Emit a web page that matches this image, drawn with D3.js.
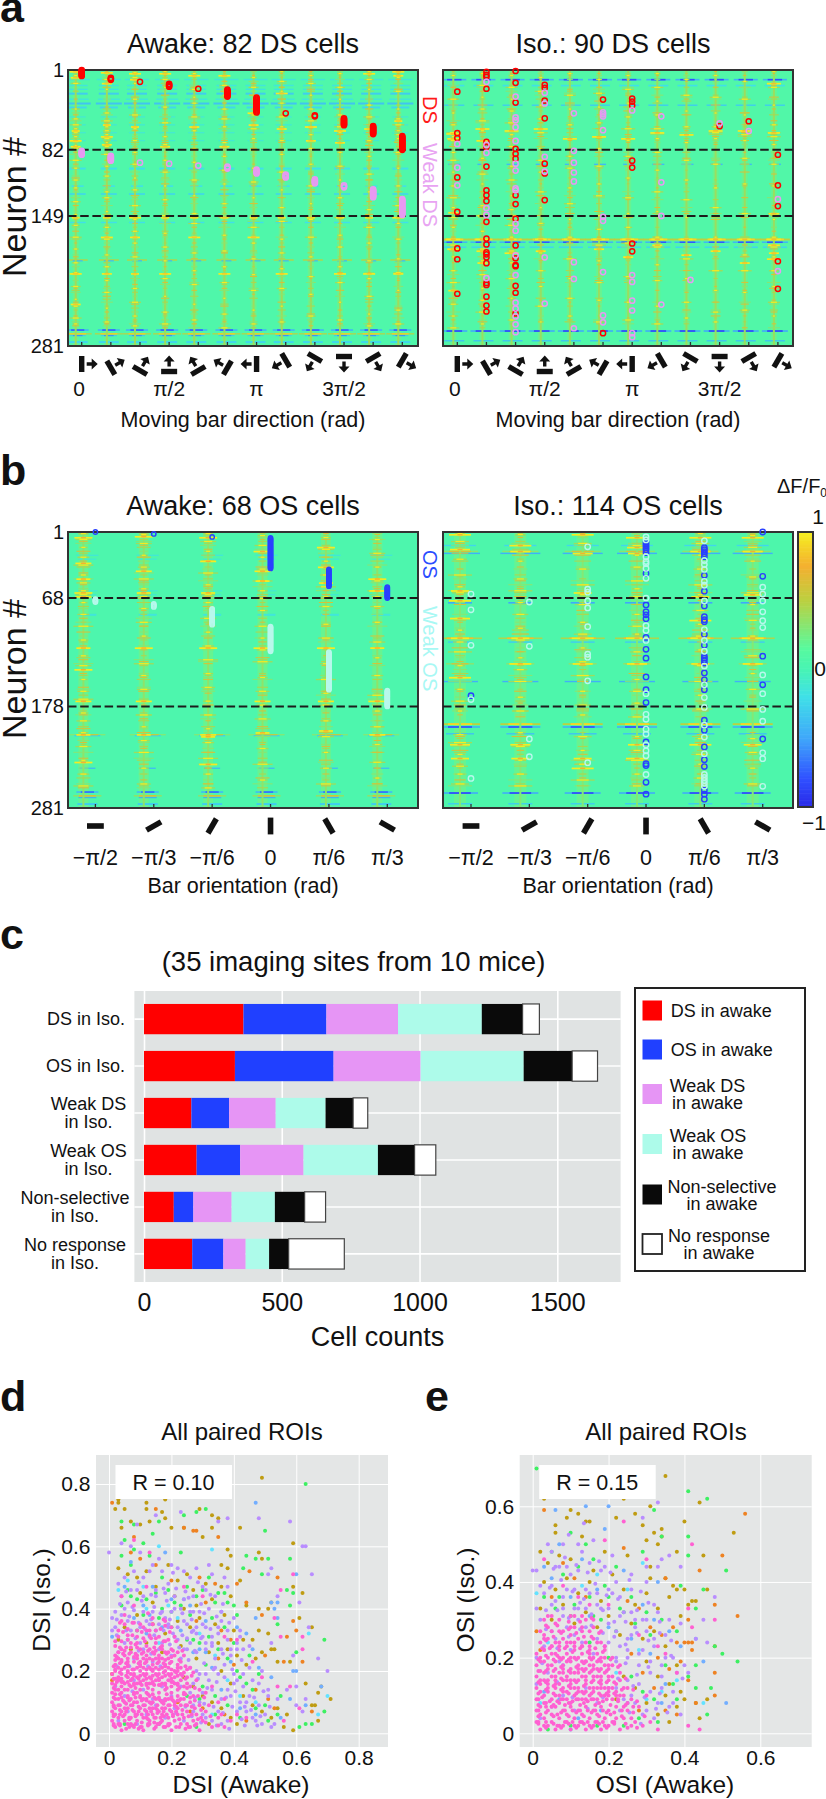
<!DOCTYPE html>
<meta charset="utf-8">
<style>
  html, body { margin: 0; padding: 0; background: #fff; }
  text { font-family: "Liberation Sans", Arial, sans-serif; fill: #111; }
</style>
<script src="https://d3js.org/d3.v7.min.js"></script>
<div id="chart"></div>
<script>

// ---------- colour bar ----------
var colorStops = [-1, -0.8, -0.5, -0.2, 0, 0.15, 0.5, 0.75, 1];
var colorHex = ["#2a2ae8", "#3050ff", "#40a8fa", "#40e0e8", "#48f4b4", "#58fa9e", "#bcd040", "#f4b030", "#f5f020"];

// ---------- panel a : direction columns ----------
var directionAngles = [0, 30, 60, 90, 120, 150, 180, 210, 240, 270, 300, 330];
var directionLabels = ["0", "", "", "π/2", "", "", "π", "", "", "3π/2", "", ""];

// awake DS / weak DS cells: [column, first neuron, last neuron]
var aAwakeStrong = [[0,1,7],[1,9,11],[2,13,13],[3,15,18],[4,20,20],[5,21,28],[6,29,44],[7,45,45],[8,47,48],[9,50,57],[10,58,66],[11,68,82]];
var aAwakeWeakCells = [[0,83,87],[1,88,93],[2,95,95],[3,96,96],[4,98,98],[5,99,101],[6,102,106],[7,107,110],[8,112,116],[9,118,120],[10,122,130],[11,132,148]];

// iso DS / weak DS cells: neuron numbers per column
var aIsoStrong = [
  [23,65,70,110,145,182,193,228],
  [3,6,8,20,74,79,99,123,128,134,155,172,178,186,188,191,197,217,219,231,240,246],
  [2,14,34,81,86,91,128,137,152,179,192,199,200,220,227,248],
  [16,19,32,50,96,106,133],
  [],
  [31,268],
  [30,33,37,93,100,177,185],
  [],
  [],
  [58],
  [53],
  [87,118,139,195,223]
];
var aIsoWeakCells = [
  [76,100,118],
  [13,77,85,141,148,212],
  [28,49,52,59,73,96,103,121,123,157,164,189,209,237,243,251,259,267],
  [24,35,89,104,191,238],
  [45,83,95,105,114,196,213,263],
  [44,46,48,62,150,154,206,250,257],
  [42,209,216,235,245,268,272],
  [48,115,149,239],
  [214],
  [55],
  [63],
  [132,205]
];

// response flecks read per column: neuron rows
var aAwakeFlecks = [
  [6,14,40,50,56,60,64,68,73,77,80,92,100,112,120,134,147,158,170,182,196,206,220,233,240,252,258],
  [4,10,20,44,52,58,62,66,70,74,78,86,98,108,124,130,144,160,172,188,200,214,226,242,256],
  [3,8,14,30,46,60,72,84,96,110,122,138,152,164,176,190,208,222,236,250,260],
  [2,10,18,38,54,68,76,92,104,118,132,148,166,180,194,212,230,246,258],
  [4,20,28,34,48,62,80,94,112,128,146,156,170,186,204,218,238,254],
  [6,16,26,40,50,58,74,88,102,116,136,150,168,184,200,216,232,248,262],
  [8,18,30,46,60,70,82,100,114,130,148,160,176,192,208,224,244,258],
  [2,12,22,34,48,58,72,86,104,122,140,154,172,186,202,222,240,256],
  [6,14,26,40,52,66,80,96,118,136,152,170,190,210,228,250],
  [4,18,30,46,58,64,74,84,98,112,130,150,168,180,200,216,236,254],
  [2,10,20,36,48,60,72,88,106,124,142,160,176,194,212,230,248,260],
  [8,22,40,50,56,62,66,70,84,100,118,138,156,172,192,206,224,244,258]
];
var aAwakeHot = [
  [2,8,62,72,78,150,207,238],
  [3,14,56,68,76,150,170,207],
  [4,10,58,150,170,207],
  [4,78,150,207],
  [6,58,150,170],
  [6,78,150,207],
  [44,56,150,170],
  [24,60,150,207],
  [58,72,150],
  [62,74,150,207],
  [4,60,150,207],
  [2,6,52,150,207]
];
var aAwakeBands = [[10,1.4,-0.15,12],[16,1.4,-0.15,10],[20,1.2,-0.18,10],[24,2,-0.3,10],[30,1.2,-0.18,11],[34,2,-0.35,13],[38,2,-0.25,9],[48,1.2,-0.12,8],[56,1.2,-0.12,8],[64,1.2,-0.12,8],[72,1.2,-0.12,8],[100,2,-0.2,8],[118,1.6,-0.2,6],[126,1.6,-0.25,8],[155,1.4,-0.2,8],[193,1.5,0.45,10],[194,1.2,-0.4,5],[264,1.6,-0.75,11],[268,1.3,0.85,14],[270,1,-0.6,8],[276,2,-0.25,10]];

var aIsoFlecks = [
  [6,30,44,56,64,68,72,84,92,104,118,130,140,150,160,178,190,204,216,224,238,250,262],
  [4,16,28,40,52,62,72,90,106,116,138,148,164,182,194,208,222,234,246,258],
  [6,18,30,42,54,66,78,98,112,128,142,158,170,184,196,212,232,254],
  [8,22,36,50,64,80,92,104,124,140,156,172,186,204,220,240,256],
  [4,26,40,56,70,88,100,120,136,152,170,192,212,232,250],
  [10,24,38,54,68,80,98,116,128,148,162,178,194,216,234,256],
  [6,20,34,48,60,72,88,110,130,146,160,176,190,210,236,254],
  [4,18,32,46,60,70,84,102,124,144,170,180,198,214,240,258],
  [10,26,42,58,66,74,92,112,132,150,172,192,212,236,252],
  [6,28,44,58,64,70,96,120,140,170,184,204,224,246,256],
  [12,30,46,62,66,72,90,116,146,172,188,204,226,244],
  [2,18,36,56,68,76,96,118,146,152,170,180,190,204,220,236,250]
];
var aIsoHot = [
  [65,70,145,172,182,224],
  [60,72,148,172,184,196],
  [62,148,172,186],
  [60,172,184],
  [70,172],
  [68,172,182],
  [70,172,190],
  [64,172,178],
  [66,172,188],
  [62,172,184],
  [62,172,196],
  [14,64,146,172,178,186,192]
];
var aIsoBands = [[10,1.6,-0.8,12],[16,1.6,-0.2,10],[36,1.4,-0.3,10],[96,1.4,-0.4,6],[172,1.8,0.9,15],[175,1.4,-0.8,13],[180,1.6,-0.25,12],[265,1.6,-0.85,13],[275,1.4,-0.35,10]];

// ---------- panel b : orientation columns ----------
var orientationAngles = [-90, -60, -30, 0, 30, 60];
var orientationLabels = ["−π/2", "−π/3", "−π/6", "0", "π/6", "π/3"];

var bAwakeStrong = [[0,1,1],[1,3,3],[2,6,6],[3,7,38],[4,39,56],[5,57,68]];
var bAwakeWeakCells = [[0,69,72],[1,74,77],[2,79,95],[3,97,122],[4,123,161],[5,162,178]];

var bIsoStrong = [
  [167],
  [],
  [],
  [11,13,15,17,19,22,43,75,82,85,89,108,120,129,148,161,174,214,236,238,255,267],
  [17,19,21,23,26,45,61,76,87,90,92,105,116,127,129,131,134,144,151,161,192,202,219,232,239,263,267,272],
  [1,46,127,156,211]
];
var bIsoWeakCells = [
  [64,80,116,171,251],
  [72,117,211,229],
  [16,59,62,71,78,97,125,128,152,235],
  [6,9,26,31,33,38,48,68,96,101,111,165,186,191,201,206,217,223,228,247],
  [10,30,34,39,51,55,71,100,111,122,137,156,169,179,197,209,226,247,250,253,256,259],
  [57,64,71,82,91,98,146,165,181,193,225,231,259]
];

var bAwakeFlecks = [
  [2,8,16,26,34,44,52,60,64,72,84,96,110,118,126,136,150,162,170,184,192,204,218,232,246,258],
  [3,12,24,36,48,58,66,78,92,106,118,134,146,160,172,186,198,212,224,240,256],
  [2,10,20,30,42,54,64,72,88,102,116,130,144,158,172,186,200,214,230,246,260],
  [4,14,26,38,50,60,68,80,96,108,120,132,148,162,176,190,204,220,236,252],
  [6,18,30,44,56,66,76,94,108,118,134,150,164,176,192,208,224,240,256],
  [8,22,36,50,60,66,76,92,112,128,146,166,182,198,216,234,250]
];
var bAwakeHot = [
  [6,32,48,62,66,118,140,172,206,234],
  [5,40,62,118,172,206],
  [6,30,62,118,206,208,236],
  [20,40,50,118,172,204],
  [16,36,52,118,172,202],
  [48,60,118,172,206]
];
var bAwakeBands = [[24,1.2,-0.14,11],[28,1.2,-0.12,9],[60,1.2,-0.12,10],[64,1.2,-0.12,9],[84,2,-0.15,9],[206,1.3,0.55,18],[207,1.3,-0.3,13],[240,1.3,-0.4,8],[264,1.6,-0.7,11],[268,1.3,0.7,14],[270,1,-0.5,9],[276,2,-0.3,10]];

var bIsoFlecks = [
  [2,10,18,28,44,56,62,70,88,100,112,122,136,148,160,172,182,206,214,226,238,246,256],
  [3,14,30,48,60,72,84,98,110,128,140,152,168,182,204,218,232,246,258],
  [4,12,22,38,54,64,74,92,104,118,132,146,162,176,186,208,222,236,252],
  [6,14,24,36,50,58,66,84,96,104,122,134,150,162,174,188,208,222,232,246,258],
  [2,12,24,38,54,64,80,94,106,120,136,152,166,180,210,226,236,250],
  [4,16,30,46,62,74,90,106,126,144,160,180,210,224,240,256]
];
var bIsoHot = [
  [3,18,60,70,88,108,148,216,230],
  [14,20,108,134,216,230],
  [3,22,62,108,134,230,240],
  [6,16,22,108,134,216,230],
  [6,20,66,90,108,134,216],
  [6,20,64,108,134,216]
];
var bIsoBands = [[14,1.4,-0.25,16],[20,1.4,0.6,18],[22,1.4,-0.45,20],[72,1.6,-0.5,12],[108,1.6,0.8,22],[112,1.4,-0.3,12],[134,1.4,0.6,14],[152,1.4,-0.45,18],[195,1.8,0.9,20],[198,1.6,-0.8,20],[205,1.4,-0.35,14],[265,1.6,-0.85,18],[276,1.4,-0.3,12]];

// ---------- panel c ----------
var countCategories = ["DS in Iso.", "OS in Iso.", "Weak DS\nin Iso.", "Weak OS\nin Iso.", "Non-selective\nin Iso.", "No response\nin Iso."];
var countGroups = ["DS in awake", "OS in awake", "Weak DS\nin awake", "Weak OS\nin awake", "Non-selective\nin awake", "No response\nin awake"];
var countColors = ["#ff0000", "#2040ff", "#e695f5", "#adfbea", "#0a0a0a", "#ffffff"];
var countsDS = [361, 301, 260, 304, 148, 61];
var countsOS = [330, 358, 316, 374, 176, 92];
var countsWeakDS = [172, 137, 169, 181, 100, 53];
var countsWeakOS = [191, 158, 230, 270, 133, 77];
var countsNonSel = [108, 71, 139, 157, 108, 76];
var countsNoResp = [175, 113, 81, 85, 71, 202];
var countTicks = [0, 500, 1000, 1500];

// ---------- panel d (x, y pairs in hundredths) ----------
var scatterColors = {olive:"#bf9c12", orange:"#ee8222", green:"#3df062", cyan:"#63e2ff", blue:"#72aeff", purple:"#b98dff", pink:"#ff60d2"};
var scatterTicksD = [0, 0.2, 0.4, 0.6, 0.8];
var scatterTicksE = [0, 0.2, 0.4, 0.6];

var dOlive = [49,82,42,66,35,69,33,70,29,72,18,75,12,74,12,72,17,71,3,75,3,74,2,72,5,72,4,66,7,68,10,67,13,68,18,69,20,66,24,66,33,66,30,63,59,61,49,56,48,58,39,57,38,59,36,54,38,53,62,45,59,47,52,42,48,40,51,40,61,37,65,34,51,32,48,33,47,24,54,23,58,23,52,27,53,27,49,26,46,30,63,16,68,15,67,13,71,11,65,9,66,9,67,4,59,1,56,2,
 3,53,6,51,9,50,12,52,15,47,19,54,22,49,25,51,27,46,10,45,14,42,21,44,24,40,28,41,31,48,33,43,36,47,39,44,42,49,44,41,29,37,34,35,37,38,40,33,43,30,26,34,22,36,18,32,14,35,9,38,5,34,3,30,7,27,12,29,17,26,23,28,28,24,32,26,35,29,38,27,41,25,44,22,36,20,39,16,43,12,46,9,49,7,52,5,54,8,57,6,36,8,39,5,33,10,30,12,27,15,24,18,32,3,41,3];
var dOrange = [15,72,24,66,27,65,28,65,35,63,1,74,8,63,54,50,45,52,59,36,60,33,57,31,49,38,62,23,56,23,50,25,65,7,7,58,10,56,15,54,20,49,29,50,34,48,41,48,44,42,31,42,28,36,36,33,39,30,35,24,40,22,47,14,51,11,53,8,30,8,37,6,44,4,26,7,22,10,1,17,1,19];
var dGreen = [63,80,50,65,31,72,28,71,24,70,4,68,8,67,16,68,58,56,51,56,47,56,44,57,49,51,43,53,59,45,57,46,58,41,54,35,69,30,60,26,69,7,63,3,65,3,61,2,5,62,8,59,11,61,14,64,4,57,7,54,13,57,17,50,23,58,25,47,28,44,32,50,35,45,38,42,41,38,12,43,7,44,17,40,21,42,33,37,37,34,40,29,45,25,42,18,46,14,50,9,54,6,30,15,34,12,38,9,9,33,20,34,27,30,31,22,48,19,55,12,
 6,46,9,43,15,45,19,46,23,41,26,38,30,46,34,42,37,45,40,41,4,41,11,38,16,37,20,39,25,30,29,29,32,31,35,27,38,24,41,20,44,16,47,8,51,4,34,6,29,11,25,12,42,5,5,3,16,3,28,2];
var dCyan = [3,46,6,49,11,47,16,60,33,59,64,32,67,6,70,12,12,40,19,41,24,43,29,32,34,25,38,17,42,12,47,10,33,6,22,37,16,29];
var dBlue = [47,74,60,51,52,42,54,42,53,40,54,37,47,37,59,20,60,20,68,15,63,9,1,31,7,55,14,47,18,58,20,43,26,41,31,36,36,39,41,34,44,32,46,27,39,23,48,21,52,18,36,14,42,8,47,6,55,5,58,11,8,37,13,38,17,34,23,33,29,27,33,21,5,47,11,41,15,33,21,31,27,26,31,26,6,30,12,32];
var dPurple = [48,69,58,68,38,69,35,68,23,71,15,70,0,58,62,60,63,60,9,67,65,51,52,53,51,51,61,42,54,44,64,34,67,24,70,20,59,25,52,29,63,11,60,9,
 4,61,7,60,10,58,13,52,16,56,19,48,22,53,26,50,30,47,33,51,3,48,6,42,9,46,12,36,15,44,18,37,21,40,24,36,27,39,30,35,33,31,36,36,39,27,42,31,45,28,1,37,1,33,4,38,7,33,10,29,13,31,16,27,19,34,22,30,25,27,28,32,31,29,34,24,37,22,40,19,43,15,45,21,48,16,51,14,54,11,57,14,60,15,62,7,
 3,26,5,29,8,24,11,27,14,23,17,29,20,25,23,24,26,21,29,19,32,17,35,19,38,14,41,17,44,10,46,5,49,3,52,2,3,4,6,7,9,3,12,6,15,9,18,5,21,8,24,4,27,9,30,6,33,4,36,3,2,15,5,12,8,17,11,14,14,11,17,15,20,12,23,15,26,13,29,10,
 2.5,31.5,5.5,33,8.5,30.5,11.5,33.5,14.5,31.5,17.5,33,20.5,32,23.5,31.5,26.5,32.5,29.5,30.5,32.5,33.5,
 2.5,36.5,6.5,37.5,9.5,35.5,13.5,36.5,16.5,38.5,19.5,36.5,23.5,38.5,26.5,36.5,30.5,38.5,34.5,37.5,38.5,35.5,
 3.5,41.5,7.5,40.5,10.5,42.5,14.5,40.5,18.5,42.5,21.5,46.5,25.5,43.5,29.5,41.5,32.5,44.5,36.5,41.5,
 5.5,45.5,9.5,48.5,13.5,44.5,17.5,46.5,20.5,51.5,24.5,45.5,28.5,48.5,
 2.5,21.5,25.5,23.5,27.5,26.5,30.5,22.5,33.5,20.5,36.5,25.5,39.5,20.5,42.5,23.5,
 28.5,17.5,31.5,14.5,34.5,16.5,37.5,11.5,40.5,13.5,43.5,8.5,46.5,11.5,49.5,13.5,
 27.5,11.5,30.5,9.5,33.5,8.5,36.5,6.5,39.5,8.5,42.5,4.5,45.5,7.5,48.5,5.5,51.5,8.5,
 26.5,5.5,29.5,3.5,34.5,2.5,38.5,1.5,43.5,2.5,47.5,2.5,
 16.5,21.5,13.5,25.5,22.5,27.5,6.5,21.5,9.5,26.5,19.5,28.5,12.5,21.5,3.5,17.5,7.5,13.5,17.5,10.5,21.5,6.5,24.5,8.5,
 24,27,26,29,28,26,31,27,33,28,36,27,39,25,41,27,25,30.5,27,33,30,31,33,29,35,32,38,30,41,29,43,27,
 2,34,6,36,10,34,13,35,16,35,19,35,22,34,25,35,28,34,31,34,35,34,38,33,42,33,
 2,39,5,40,8,39.5,11,39,14,39,17,39,20,39,23,40,26,39,29,39,32,40,36,39,40,37,
 4,44,7,46,11,44,15,46,18,45,21,44,24,43,27,44,31,46,34,44,38,47,5,50,8,52,11,50,14,54,17,52,20,54,24,52,28,53,32,54,37,50,
 28,20,31,19,34,21,37,18,40,16,43,19,46,17,49,20,27,16,30,13,33,14,36,11,39,12,42,10,45,12,48,9,51,12,27,7,31,5,35,7,38,4,41,7,44,7,47,4,50,6,53,3];
var dPink = [59,51,55,46,53,37,55,31,62,31,62,27,46,23,8,62,13,58,4,44,8,41,12,47,5,38,10,35,14,37,18,36,24,47,30,44,37,31,41,30,49,18,54,15,58,15,61,8,56,4,
 2,2,4,1,6,3,8,2,11,1,13,3,15,2,18,2,20,1,23,3,26,2,29,1,33,2,37,2,
 1,4,3,5,5,4,7,5,9,4,11,5,13,4,15,5,17,4,19,5,21,4,24,5,27,4,30,4,35,5,39,4,44,5,
 1,7,2,8,4,7,6,8,8,7,10,8,12,7,14,8,16,7,18,8,20,7,22,8,25,7,28,6,31,7,36,6,41,6,
 1,10,3,11,5,10,7,11,9,10,11,11,13,10,15,11,17,10,19,11,21,10,23,11,26,10,29,9,32,9,37,11,
 1,13,2,14,4,13,6,14,8,13,10,14,12,13,14,14,16,13,18,14,20,13,22,14,24,13,27,12,31,13,35,10,
 1,16,3,17,5,16,7,17,9,16,11,17,13,16,15,17,17,16,19,17,21,16,23,17,26,15,29,14,33,15,
 1,19,2,20,4,19,6,20,8,19,10,20,12,19,14,20,16,19,18,20,20,19,22,20,25,18,28,17,
 2,22,4,23,6,22,8,23,10,22,12,23,14,22,16,23,18,22,20,23,22,22,26,21,
 2,25,5,25,7,26,9,25,12,25,14,26,16,25,18,26,21,25,2,28,4,27,7,29,10,27,12,28,15,29,17,28,20,27,24,25,
 3,31,6,30,9,31,13,33,16,31,19,30,5,35,11,34,
 3,3,5,6,7,3,9,6,10,2,12,5,14,6,16,3,17,6,19,3,22,6,25,3,28,3,
 2,6,2,11,3,9,5,8,6,12,7,9,8,10,9,13,10,12,11,9,12,11,13,8,13,12,14,10,15,8,16,11,17,8,18,11,19,9,20,11,21,9,22,12,23,9,24,11,25,9,
 3,14,4,15,5,14,6,18,7,15,8,16,9,18,10,16,11,19,12,16,13,18,14,16,15,19,16,17,17,18,18,16,19,19,20,15,21,18,22,16,23,19,24,15,25,16,
 3,18,3,21,5,21,7,19,9,21,11,21,13,21,15,21,17,21,19,21,21,20,23,21,3,24,6,24,9,24,11,24,13,24,15,24,17,24,19,24,
 1.5,2.5,3.5,2.5,5.5,1.5,7.5,2.5,9.5,1.5,12.5,2.5,14.5,1.5,16.5,3.5,19,2.5,21.5,2,24.5,1.5,27.5,2.5,31,3.5,35,2.5,
 1.5,5.5,4.5,5.5,6.5,4.5,8.5,5.5,10.5,3.5,12.5,4.5,14.5,3.5,15.5,6.5,17.5,5.5,20.5,5.5,22.5,4.5,25.5,5.5,28.5,4.5,32.5,5.5,
 1.5,8.5,3.5,7.5,5.5,9.5,7.5,7.5,9.5,8.5,11.5,7.5,13.5,9.5,15.5,7.5,17.5,9.5,19.5,7.5,21.5,8.5,23.5,7.5,26.5,8.5,29.5,7.5,
 1.5,11.5,3.5,12.5,4.5,10.5,6.5,10.5,8.5,11.5,10.5,10.5,12.5,12.5,14.5,11.5,16.5,10.5,18.5,12.5,20.5,10.5,22.5,10.5,24.5,12.5,27.5,10.5,30.5,11.5,
 1.5,14.5,2.5,16.5,4.5,16.5,6.5,15.5,8.5,14.5,10.5,15.5,12.5,14.5,14.5,15.5,16.5,15.5,18.5,14.5,20.5,16.5,22.5,14.5,24.5,17.5,27.5,14.5,
 1.5,17.5,3.5,19.5,5.5,18.5,7.5,17.5,9.5,17.5,11.5,18.5,13.5,17.5,15.5,18.5,17.5,19.5,19.5,18.5,21.5,19.5,23.5,18.5,26.5,18.5,
 1.5,21.5,3.5,22.5,5.5,22.5,7.5,20.5,9.5,22.5,11.5,22.5,13.5,20.5,15.5,22.5,17.5,22.5,19.5,22.5,22.5,23.5,24.5,21.5,
 2.5,24.5,4.5,25.5,6.5,25.5,8.5,25.5,10.5,25.5,12.5,26.5,14.5,25.5,16.5,27.5,18.5,25.5,20.5,26.5,23.5,26.5,
 3.5,27.5,5.5,27.5,8.5,28.5,11.5,29.5,14.5,27.5,17.5,29.5,21.5,29.5,4.5,32.5,7.5,31.5,10.5,32.5,13.5,30.5,16.5,33.5,19.5,32.5,3.5,35.5,7.5,35.5,12.5,38.5,17.5,36.5,
 1.5,3,3.5,3,6.5,2,8.5,3,10.5,2,12.5,3,15.5,3,17.5,2,19.5,3,22.5,2,25.5,2,
 1.5,6,3.5,6,6.5,5,8.5,6,10.5,6,12.5,6,14.5,5,16.5,5,18.5,6,20.5,6,23.5,6,26.5,6,29.5,5,
 1.5,9,3.5,9,5.5,7,7.5,9,9.5,7,11.5,9,13.5,7,15.5,9,17.5,7,19.5,9,21.5,7,24.5,9,27.5,8,
 2,12.5,4,11.5,6,11.5,8,12.5,10,11.5,12,10.5,14,12.5,16,11.5,18,10.5,20,11.5,22,10.5,24,12.5,26,11.5,28.5,12,
 2,15.5,4,16.5,6,16.5,8,15.5,10,16.5,12,15.5,14,16.5,16,15.5,18,15.5,20,16.5,22,15.5,25,14.5,
 2,17.5,4,17.5,6,19.5,8,18.5,10,18.5,12,17.5,14,18.5,16,17.5,18,18.5,20,17.5,22,18.5,24,19.5,27,19.5,
 2,20.5,4,20.5,6,21.5,8,20.5,10,21.5,12,20.5,14,20.5,16,20.5,18,21.5,20,20.5,22,21,25,20.5,
 2,23.5,4,23.5,6,23,8,24.5,10,23,12,23.5,14,23.5,16,24,18,23.5,20,24.5,23,23,
 3,26,5,26.5,7,27.5,9,27.5,11,26,13,27,15,26.5,17,27,19,26,22,26,
 2,29.5,4,29.5,6,31.5,9,29,11,30.5,13,31.5,15,30.5,18,29.5,21,31,3,33,6,33.5,9,33,12,33,15,33,18,34.5,4,36,8,35.5,14,35,20,34];

// ---------- panel e (x, y pairs in hundredths) ----------
var eOlive = [35,68,44,61,53,53,45,47,38,48,40,56,31,60,27,58,22,57,34,54,32,53,29,55,33,50,30,51,25,47,31,44,35,41,37,39,40,38,38,38,31,41,46,38,43,35,42,35,41,34,3,62,10,59,24,62,6,55,6,53,9,57,12,58,14,56,15,56,46,9,44,4,43,8,
 2,48,4,45,7,47,10,46,13,52,16,43,19,48,3,40,6,38,9,41,12,37,15,40,18,35,21,42,24,38,27,34,30,37,33,33,36,36,39,31,2,33,5,30,8,34,11,29,14,32,17,28,20,31,23,26,26,29,29,25,32,27,35,23,38,18,30,19,33,15,36,13,39,11,27,12,30,8,33,5,36,3,24,15,22,9,35,10,38,7,40,9];
var eOrange = [56,58,50,47,54,31,48,23,48,16,48,10,43,8,42,24,41,24,40,24,42,22,38,24,48,34,41,30,24,49,34,52,44,43,35,41,3,59,8,45,11,41,5,36,14,36,25,35,28,33,31,28,34,26,37,28,33,20,36,17,39,19,41,14,26,21,29,16,32,12,35,6,38,5,28,6,2,22,1,27];
var eGreen = [1,70,41,64,46,62,51,43,54,19,50,21,48,23,47,12,46,5,43,18,41,52,41,47,45,38,39,39,43,33,32,59,29,48,34,52,10,53,14,50,5,48,8,42,12,44,16,46,19,39,22,44,3,36,6,33,10,31,18,30,22,27,26,36,30,32,34,30,38,27,41,15,37,13,43,12,32,9,28,4,24,2,17,2,10,2,4,1,20,20,15,24,
 7,36,11,34,15,36,20,36,24,32,27,29,31,26,35,18,38,9,26,15,29,11,33,3,23,33,16,31];
var eCyan = [29,45,1,37,4,24,8,18,13,39,17,42,25,38,28,22,22,16,30,9,34,11,38,14,10,1,2,8,45,8];
var eBlue = [6,59,14,60,20,60,51,8,45,19,19,54,33,40,3,44,7,50,13,46,17,38,24,43,29,34,32,30,36,27,39,23,43,25,35,13,5,41,10,36,15,31,20,28,26,25,31,21,3,11,7,9,12,4,18,6,25,8,34,8];
var ePurple = [33,61,29,57,46,24,43,25,45,30,48,36,36,47,33,44,39,44,34,46,0,43,1,43,
 4,50,7,44,10,42,13,48,16,51,19,44,22,40,26,42,30,44,3,37,6,35,9,38,12,33,15,37,18,33,21,37,24,32,27,30,30,30,33,32,36,30,39,29,2,30,5,27,8,31,11,26,14,28,17,25,20,29,23,23,26,26,29,22,32,23,35,20,38,16,41,16,
 1,13,4,16,7,19,10,22,13,24,16,21,19,23,22,19,25,22,28,18,31,16,34,12,37,8,2,4,5,7,8,10,11,6,14,12,17,8,20,12,23,6,26,10,29,5,32,4,1,20,3,23,6,25,9,28,12,30,
 3.5,32.5,6.5,32.5,9.5,30.5,12.5,34.5,15.5,31.5,18.5,32.5,21.5,29.5,24.5,29.5,27.5,32.5,30.5,34.5,33.5,29.5,
 4.5,38.5,7.5,40.5,10.5,37.5,13.5,35.5,16.5,39.5,19.5,36.5,22.5,35.5,25.5,40.5,28.5,37.5,
 5.5,43.5,8.5,46.5,11.5,44.5,14.5,42.5,17.5,45.5,20.5,42.5,9.5,52.5,13.5,55.5,
 3.5,27.5,21.5,25.5,24.5,23.5,27.5,26.5,30.5,24.5,33.5,26.5,36.5,24.5,
 24.5,18.5,27.5,15.5,30.5,17.5,33.5,10.5,36.5,20.5,39.5,14.5,26.5,12.5,29.5,9.5,32.5,6.5,35.5,5.5,25.5,5.5,28.5,2.5,
 18.5,26.5,15.5,28.5,12.5,27.5,6.5,22.5,9.5,25.5,2.5,18.5,6.5,13.5,10.5,9.5,14.5,6.5,18.5,9.5,22.5,14.5,
 20,24,22,27,25,25,27,28,30,27,32,25,35,26,1,33,5,34,8,33,11,33,14,33,17,34,20,33,23,31,26,32,29,30,32,34,
 2,39,5,39,8,36,11,38,14,38,17,37,20,38,23,36,26,38,30,40,6,44,9,44,12,43,15,45,18,43,21,47,5,48,8,50,12,50,
 22,20,25,20,28,21,31,19,34,18,37,20,40,18,22,12,25,14,28,13,31,11,34,15,37,11,24,9,27,8,30,6,33,8,36,7,39,5];
var ePink = [42,50,24,56,19,51,30,46,41,33,42,28,48,30,44,1,41,2,38,16,35,21,3,46,8,39,12,36,5,31,10,28,15,34,20,34,28,26,33,23,
 2,1,4,2,6,1,8,2,10,1,12,2,14,1,16,2,18,1,20,2,23,1,26,2,29,2,33,1,
 1,3,3,4,5,3,7,4,9,3,11,4,13,3,15,4,17,3,19,4,21,3,24,4,27,3,31,3,
 1,6,2,7,4,6,6,7,8,6,10,7,12,6,14,7,16,6,18,7,20,6,22,7,25,6,28,7,
 1,9,3,10,5,9,7,10,9,9,11,10,13,9,15,10,17,9,19,10,21,9,23,10,26,9,30,10,
 1,12,2,13,4,12,6,13,8,12,10,13,12,12,14,13,16,12,18,13,20,12,22,13,25,12,
 1,15,3,16,5,15,7,16,9,15,11,16,13,15,15,16,17,15,19,16,21,15,23,16,
 1,18,2,19,4,18,6,19,8,18,10,19,12,18,14,19,16,18,18,19,20,18,23,18,
 1,21,3,22,5,21,7,22,9,21,11,22,13,21,15,22,17,21,19,22,
 2,24,4,25,6,24,8,25,10,24,12,25,14,24,16,25,18,24,
 2,27,4,28,7,27,10,26,13,27,16,28,3,30,6,29,11,31,14,30,
 3,2,5,5,7,2,9,5,11,2,13,5,15,2,17,5,19,2,22,4,24,7,26,4,
 2,5,3,8,5,7,6,10,7,8,8,9,9,11,10,8,11,12,12,9,13,11,14,9,15,12,16,9,17,12,18,10,19,12,20,10,21,12,22,10,24,10,
 3,14,4,14,6,15,7,13,8,16,9,14,10,17,11,14,12,16,13,17,14,15,15,18,16,14,17,17,18,15,19,18,20,15,21,18,
 3,19,5,18,7,20,9,19,11,20,13,19,15,20,17,19,19,20,3,25,5,23,7,24,9,23,11,24,13,23,15,23,
 1.5,2.5,3.5,1.5,5.5,2.5,7.5,1.5,9.5,2.5,11.5,1.5,13.5,2.5,15.5,1.5,17.5,2.5,19.5,1.5,21.5,2.5,24.5,2.5,27.5,1.5,
 1.5,4.5,3.5,5.5,5.5,4.5,7.5,5.5,9.5,4.5,11.5,5.5,13.5,4.5,15.5,5.5,17.5,4.5,19.5,5.5,21.5,5.5,23.5,4.5,26.5,5.5,29.5,4.5,
 1.5,7.5,2.5,9.5,4.5,8.5,6.5,8.5,8.5,7.5,10.5,8.5,12.5,7.5,14.5,8.5,16.5,7.5,18.5,8.5,20.5,7.5,22.5,8.5,24.5,7.5,27.5,8.5,
 1.5,10.5,3.5,11.5,5.5,10.5,7.5,11.5,9.5,10.5,11.5,10.5,13.5,10.5,15.5,10.5,17.5,10.5,19.5,10.5,21.5,10.5,23.5,11.5,26.5,11.5,
 1.5,13.5,3.5,13.5,5.5,12.5,7.5,14.5,9.5,12.5,11.5,13.5,13.5,12.5,15.5,13.5,17.5,13.5,19.5,13.5,21.5,13.5,24.5,14.5,
 1.5,16.5,3.5,16.5,5.5,16.5,7.5,17.5,9.5,16.5,11.5,17.5,13.5,16.5,15.5,16.5,17.5,16.5,19.5,16.5,22.5,17.5,
 1.5,19.5,3.5,20.5,5.5,19.5,7.5,19.5,9.5,19.5,11.5,19.5,13.5,18.5,15.5,19.5,17.5,19.5,20.5,19.5,
 2.5,22.5,4.5,22.5,6.5,20.5,8.5,22.5,10.5,21.5,12.5,22.5,14.5,21.5,16.5,22.5,18.5,21.5,
 3.5,24.5,5.5,25.5,7.5,26.5,9.5,27.5,11.5,26.5,13.5,25.5,15.5,25.5,17.5,26.5,3.5,28.5,6.5,28.5,9.5,29.5,12.5,29.5,15.5,30.5,
 1.5,3,3.5,3,6.5,2,8.5,3,10.5,3,12.5,3,14.5,3,16.5,3,18.5,3,21.5,3,25,1.5,
 1.5,6,3.5,7,6.5,5,8.5,6,10.5,6,12.5,6,14.5,6,16.5,6,18.5,6,20.5,5,23.5,6,26.5,7,
 1.5,9,3.5,8,5.5,7.5,7.5,9,9.5,8,11.5,9,13.5,8,15.5,9,17.5,8,19.5,9,22.5,9,25,8,
 2,11,4,11,6,12,8,11,10,12,12,11,14,11,16,11,18,12,20,11,22,11,24,12,
 2,14,4,13,6,14,8,14,10,14,12,14,14,14,16,15,18,14,20,14,23,14,
 2,16.5,4,17,6,17,8,17,10,16,12,17,14,17,16,17,18,17,20,17,
 2,20,4,20,6,21,8,20,10,20,12,20,14,19,16,20,18,20,21,20,
 3,22,5,23,7,23,9,24,11,23,13,23,15,21,17,24,19,23,
 3,26,5,27,8,27,11,28,13,28,15,27,18,27,4,31,7,30,10,31,13,31,16,30];

// ---------- drawing ----------
var svg = d3.select("#chart").append("svg").attr("width", 826).attr("height", 1799);
var defs = svg.append("defs");
defs.append("filter").attr("id", "soft").append("feGaussianBlur").attr("stdDeviation", 0.5);

var heatColor = d3.scaleLinear().domain(colorStops).range(colorHex);

function label(x, y, s, size, opts) {
  opts = opts || {};
  return svg.append("text")
    .attr("x", x).attr("y", y)
    .attr("text-anchor", opts.anchor || "middle")
    .attr("transform", opts.rotate ? "rotate(" + opts.rotate + "," + x + "," + y + ")" : null)
    .style("font-size", size + "px")
    .style("font-weight", opts.bold ? "bold" : null)
    .style("fill", opts.fill || null)
    .text(s);
}

// expand [column, first, last] into per-column rows
function expand(ranges, n) {
  var out = d3.range(n).map(function() { return []; });
  ranges.forEach(function(r) { out[r[0]] = d3.range(r[1], r[2] + 1); });
  return out;
}

var clipId = 0;
function heatPanel(p) {
  var x = d3.scalePoint().domain(d3.range(p.n)).range(p.xRange);
  var y = d3.scaleLinear().domain([1, 281]).range([p.top, p.top + 276]);
  var colIndex = d3.range(p.n);
  clipId++;
  defs.append("clipPath").attr("id", "clip" + clipId).append("rect")
    .attr("x", p.left).attr("y", p.top).attr("width", 350).attr("height", 276);

  var heat = svg.append("g").attr("clip-path", "url(#clip" + clipId + ")")
    .append("g").attr("filter", "url(#soft)");
  heat.append("rect").attr("x", p.left).attr("y", p.top).attr("width", 350).attr("height", 276)
    .attr("fill", heatColor(p.base));

  function center(c) { return x(c) + p.shift[c % p.shift.length]; }

  function streak(c, rows, half, height, value) {
    heat.selectAll(null).data(rows).enter().append("rect")
      .attr("x", function(d, i) { return center(c) - half(i); })
      .attr("width", function(d, i) { return half(i) * 2; })
      .attr("y", function(d) { return y(d); })
      .attr("height", height)
      .attr("fill", heatColor(value));
  }

  colIndex.forEach(function(c) {
    // pale halo round the column
    heat.append("rect").attr("x", center(c) - p.halo).attr("width", p.halo * 2)
      .attr("y", p.top).attr("height", 276).attr("fill", heatColor(0.2));

    // bands shared by all the columns, pale wide part first
    heat.selectAll(null).data(p.bands).enter().append("rect")
      .attr("x", function(d) { return center(c) - d[3] + p.bandShift; })
      .attr("width", function(d) { return d[3] * 2; })
      .attr("y", function(d) { return y(d[0]); })
      .attr("height", function(d) { return d[1]; })
      .attr("fill", function(d) { return heatColor(Math.abs(d[2]) > 0.5 ? d[2] * 0.55 : d[2]); });
    heat.selectAll(null).data(p.bands.filter(function(d) { return Math.abs(d[2]) > 0.5; })).enter().append("rect")
      .attr("x", function(d) { return center(c) - d[3] * 0.6 + p.bandShift; })
      .attr("width", function(d) { return d[3] * 1.2; })
      .attr("y", function(d) { return y(d[0]); })
      .attr("height", function(d) { return d[1]; })
      .attr("fill", function(d) { return heatColor(d[2]); });

    // the thin trace of the column
    heat.append("rect").attr("x", center(c) - 1).attr("width", 2)
      .attr("y", p.top).attr("height", 276).attr("fill", heatColor(p.trace));

    var wide = function(i) { return p.wide[i % p.wide.length]; };
    var narrow = function(i) { return p.wide[i % p.wide.length] * 0.5; };
    var tiny = function(i) { return p.wide[(i + 2) % p.wide.length] * 0.7; };
    // rows of the neighbouring columns show faintly here as well
    streak(c, p.flecks[(c + 1) % p.n], wide, 1, 0.32);
    streak(c, p.flecks[(c + p.n - 1) % p.n], tiny, 1, 0.45);
    streak(c, p.flecks[(c + 2) % p.n], tiny, 1, 0.62);
    streak(c, p.flecks[c], wide, 1.3, 0.4);
    streak(c, p.flecks[c], narrow, 1.2, 0.98);
    streak(c, p.hot[c], function(i) { return p.hotWide - i % 3; }, 1.7, 0.98);
    streak(c, p.hot[c], function() { return 2.5; }, 1.4, p.core);
  });

  // frame, inner ticks
  svg.append("rect").attr("x", p.left).attr("y", p.top).attr("width", 350).attr("height", 276)
    .attr("fill", "none").attr("stroke", "#333").attr("stroke-width", 2);
  svg.selectAll(null).data(colIndex).enter().append("line")
    .attr("x1", function(c) { return x(c); }).attr("x2", function(c) { return x(c); })
    .attr("y1", p.top + 276).attr("y2", p.top + 272)
    .attr("stroke", "#333").attr("stroke-width", 1.3);

  // category dividers
  p.dividers.forEach(function(v) {
    svg.append("line").attr("x1", p.left).attr("x2", p.left + 350)
      .attr("y1", y(v)).attr("y2", y(v))
      .attr("stroke", "#1c1c1c").attr("stroke-width", 2).attr("stroke-dasharray", "8.5,3.7");
  });

  function rings(rowsByCol, color) {
    colIndex.forEach(function(c) {
      svg.selectAll(null).data(rowsByCol[c]).enter().append("circle")
        .attr("cx", x(c)).attr("cy", function(d) { return y(d); })
        .attr("r", p.ringR).attr("fill", "none")
        .attr("stroke", color).attr("stroke-width", p.ringW);
    });
  }
  rings(p.strong, p.strongColor);
  rings(p.weak, p.weakColor);
  return x;
}

var neuronTicksA = [1, 82, 149, 281];
var neuronTicksB = [1, 68, 178, 281];

function neuronAxis(top, ticks) {
  var y = d3.scaleLinear().domain([1, 281]).range([top, top + 276]);
  ticks.forEach(function(t) {
    label(64, y(t) + 7, t, 20, {anchor: "end"});
  });
  label(26, top + 137, "Neuron #", 34, {rotate: -90});
}

// ----- panel a -----
label(0, 22, "a", 43, {anchor: "start", bold: true});
label(243, 53, "Awake: 82 DS cells", 27);
label(613, 53, "Iso.: 90 DS cells", 27);
neuronAxis(70, neuronTicksA);

var aAwakeX = heatPanel({n: 12, left: 68, top: 70, xRange: [81.7, 402.3], shift: [-6, -4, -5, -4, -4, -3, -3, -4, -4, -4, -4, -4],
  base: 0.07, trace: 0.4, core: 0.85, halo: 3, bands: aAwakeBands, bandShift: 2, flecks: aAwakeFlecks, hot: aAwakeHot, wide: [3, 5, 2, 4, 6, 3, 4], hotWide: 6,
  dividers: [82, 149], strong: expand(aAwakeStrong, 12), weak: expand(aAwakeWeakCells, 12), strongColor: "#ff0000", weakColor: "#e79af2", ringR: 2.6, ringW: 1.5});
var aIsoX = heatPanel({n: 12, left: 443, top: 70, xRange: [457.3, 777.9], shift: [-4],
  base: 0.08, trace: 0.38, core: 0.8, halo: 3, bands: aIsoBands, bandShift: 1, flecks: aIsoFlecks, hot: aIsoHot, wide: [3, 6, 2, 4, 7, 3, 5], hotWide: 7,
  dividers: [82, 149], strong: aIsoStrong, weak: aIsoWeakCells, strongColor: "#ff0000", weakColor: "#e79af2", ringR: 2.6, ringW: 1.5});

label(423, 96, "DS", 20, {anchor: "start", rotate: 90, fill: "#ff1a1a"});
label(423, 143, "Weak DS", 20, {anchor: "start", rotate: 90, fill: "#e8a4f2"});

function directionGlyphs(x) {
  directionAngles.forEach(function(a, i) {
    var s = Math.sin(a * Math.PI / 180);
    var g = svg.append("g").attr("transform", "translate(" + x(i) + "," + (364 + 7.5 * s) + ") rotate(" + (-a) + ")").attr("fill", "#111");
    g.append("rect").attr("x", -2.7).attr("y", -8).attr("width", 5.4).attr("height", 16);
    g.append("path").attr("d", "M5,-1.7H10V-5.5L16,0L10,5.5V1.7H5Z");
    if (directionLabels[i]) label(x(i) - (i === 0 ? 2.5 : 0), 396, directionLabels[i], 21);
  });
}
directionGlyphs(aAwakeX);
directionGlyphs(aIsoX);
label(243, 427, "Moving bar direction (rad)", 21.5);
label(618, 427, "Moving bar direction (rad)", 21.5);

// ----- panel b -----
label(0, 485, "b", 43, {anchor: "start", bold: true});
label(243, 515, "Awake: 68 OS cells", 27);
label(618, 515, "Iso.: 114 OS cells", 27);
neuronAxis(532, neuronTicksB);

var bAwakeX = heatPanel({n: 6, left: 68, top: 532, xRange: [95.4, 387.3], shift: [-12, -10, -4, -8, -3, -10],
  base: 0.05, trace: 0.34, core: 0.75, halo: 5, bands: bAwakeBands, bandShift: 4, flecks: bAwakeFlecks, hot: bAwakeHot, wide: [5, 8, 4, 6, 10, 5, 7], hotWide: 9,
  dividers: [68, 178], strong: expand(bAwakeStrong, 6), weak: expand(bAwakeWeakCells, 6), strongColor: "#2a40ff", weakColor: "#b8f8ec", ringR: 2.2, ringW: 1.4});
var bIsoX = heatPanel({n: 6, left: 443, top: 532, xRange: [471, 762.7], shift: [-11, -9, -5, -9, -4, -10],
  base: 0.06, trace: 0.3, core: 0.72, halo: 6, bands: bIsoBands, bandShift: 0, flecks: bIsoFlecks, hot: bIsoHot, wide: [5, 9, 4, 7, 12, 5, 8], hotWide: 11,
  dividers: [68, 178], strong: bIsoStrong, weak: bIsoWeakCells, strongColor: "#2a40ff", weakColor: "#b8f8ec", ringR: 2.7, ringW: 1.4});

label(423, 550, "OS", 20, {anchor: "start", rotate: 90, fill: "#2a4cff"});
label(423, 606, "Weak OS", 20, {anchor: "start", rotate: 90, fill: "#a8f8f4"});

function orientationGlyphs(x) {
  orientationAngles.forEach(function(a, i) {
    svg.append("rect").attr("x", x(i) - 2.8).attr("y", 826 - 8.4).attr("width", 5.6).attr("height", 16.8)
      .attr("transform", "rotate(" + (-a) + "," + x(i) + ",826)").attr("fill", "#111");
    label(x(i), 865, orientationLabels[i], 21.5);
  });
}
orientationGlyphs(bAwakeX);
orientationGlyphs(bIsoX);
label(243, 893, "Bar orientation (rad)", 21.5);
label(618, 893, "Bar orientation (rad)", 21.5);

// colour bar
var barY = d3.scaleLinear().domain([1, -1]).range([532, 807]);
svg.selectAll(null).data(d3.range(-1, 1, 0.01)).enter().append("rect")
  .attr("x", 798).attr("width", 15)
  .attr("y", function(d) { return barY(d + 0.01); })
  .attr("height", barY(0) - barY(0.01) + 0.6)
  .attr("fill", function(d) { return heatColor(d); });
svg.append("rect").attr("x", 798).attr("y", 532).attr("width", 15).attr("height", 275)
  .attr("fill", "none").attr("stroke", "#333").attr("stroke-width", 2);
var dfLabel = label(777, 493, "ΔF/F", 20, {anchor: "start"});
dfLabel.append("tspan").attr("dy", 4).style("font-size", "12px").text("0");
label(818, 524, "1", 21);
label(820, 676, "0", 21);
label(826, 830, "−1", 21, {anchor: "end"});

// ----- panel c -----
label(0, 949, "c", 43, {anchor: "start", bold: true});
label(353.5, 971, "(35 imaging sites from 10 mice)", 27.5);

var countX = d3.scaleLinear().domain([0, 1500]).range([144, 557.3]);
var countY = d3.scaleBand().domain(countCategories).range([995.5, 1277.5]).paddingInner(0.355).paddingOuter(0.18);
var countRows = [countsDS, countsOS, countsWeakDS, countsWeakOS, countsNonSel, countsNoResp];

var cPanel = svg.append("g");
cPanel.append("rect").attr("x", 134.4).attr("y", 991).attr("width", 486.2).attr("height", 291).attr("fill", "#e0e3e3");
cPanel.append("g").attr("transform", "translate(0,1282)")
  .call(d3.axisBottom(countX).tickValues(countTicks).tickSize(-291).tickFormat(""))
  .call(function(g) { g.select(".domain").remove(); g.selectAll("line").attr("stroke", "#fff").attr("stroke-width", 1.6); });
cPanel.append("g").attr("transform", "translate(134.4,0)")
  .call(d3.axisLeft(countY).tickSize(-486.2).tickFormat(""))
  .call(function(g) { g.select(".domain").remove(); g.selectAll("line").attr("stroke", "#fff").attr("stroke-width", 1.6); });

countRows.forEach(function(row, r) {
  var start = 0;
  var stacked = row.map(function(v) { var s = [start, start + v]; start += v; return s; });
  cPanel.selectAll(null).data(stacked).enter().append("rect")
    .attr("x", function(d) { return countX(d[0]); })
    .attr("width", function(d) { return countX(d[1]) - countX(d[0]); })
    .attr("y", countY(countCategories[r]))
    .attr("height", countY.bandwidth())
    .attr("fill", function(d, i) { return countColors[i]; })
    .attr("stroke", function(d, i) { return i === 5 ? "#444" : "none"; })
    .attr("stroke-width", 1.2);
  var lines = countCategories[r].split("\n");
  var cy = countY(countCategories[r]) + countY.bandwidth() / 2;
  var blockW = lines[0].length > 8 ? 100 : 73;
  lines.forEach(function(s, k) {
    var yy = cy + 6 + (lines.length > 1 ? (k === 0 ? -9 : 9) : 0);
    if (lines.length === 1) label(125, yy, s, 18, {anchor: "end"});
    else label(125 - blockW / 2, yy, s, 18);
  });
});

svg.append("g").attr("transform", "translate(0,1293)")
  .call(d3.axisBottom(countX).tickValues(countTicks).tickSize(0).tickFormat(d3.format("d")))
  .call(function(g) { g.select(".domain").remove(); g.selectAll("text").style("font-size", "25px").attr("y", 0).attr("dy", "0.72em"); });
label(377.5, 1346, "Cell counts", 27);

// legend
svg.append("rect").attr("x", 635).attr("y", 988).attr("width", 170).attr("height", 283)
  .attr("fill", "#fff").attr("stroke", "#222").attr("stroke-width", 2);
var legendKeyY = [1010.5, 1049.5, 1094, 1144, 1194.5, 1244];
var legendTextX = [670.7, 670.7, 707.5, 708, 722, 719];
countGroups.forEach(function(name, i) {
  var cy = legendKeyY[i];
  svg.append("rect").attr("x", 642.5).attr("y", cy - 10).attr("width", 19.5).attr("height", 20)
    .attr("fill", countColors[i]).attr("stroke", i === 5 ? "#222" : "none").attr("stroke-width", 1.8);
  var lines = name.split("\n");
  if (lines.length === 1) {
    label(legendTextX[i], cy + 6, name, 18, {anchor: "start"});
  } else {
    label(legendTextX[i], cy - 2, lines[0], 18);
    label(legendTextX[i], cy + 15, lines[1], 18);
  }
});

// ----- panels d and e -----
function scatter(p) {
  var x = d3.scaleLinear().domain([0, p.xMaxTick]).range(p.xRange);
  var y = d3.scaleLinear().domain([0, p.yMaxTick]).range(p.yRange);
  var g = svg.append("g");
  g.append("rect").attr("x", p.left).attr("y", 1455).attr("width", 292).attr("height", 292).attr("fill", "#e4e6e6");
  function whiteLines(sel) { sel.select(".domain").remove(); sel.selectAll("line").attr("stroke", "#fff").attr("stroke-width", 1); }
  g.append("g").attr("transform", "translate(0,1747)")
    .call(d3.axisBottom(x).tickValues(p.xTicks).tickSize(-292).tickFormat("")).call(whiteLines);
  g.append("g").attr("transform", "translate(" + p.left + ",0)")
    .call(d3.axisLeft(y).tickValues(p.yTicks).tickSize(-292).tickFormat("")).call(whiteLines);

  p.groups.forEach(function(group) {
    var pts = d3.range(0, group.values.length, 2).map(function(i) {
      return [group.values[i] / 100, group.values[i + 1] / 100];
    });
    g.selectAll(null).data(pts).enter().append("circle")
      .attr("cx", function(d) { return x(d[0]); })
      .attr("cy", function(d) { return y(d[1]); })
      .attr("r", 2).attr("fill", scatterColors[group.name]);
  });

  g.append("rect").attr("x", p.left + 19.5).attr("y", 1465).attr("width", 116.5).attr("height", 34).attr("fill", "#fff");
  label(p.left + 19.5 + 58, 1489.5, p.r, 21.5);

  var tickFmt = function(d) { return d === 0 ? "0" : d3.format(".1f")(d); };
  svg.append("g").attr("transform", "translate(0,1750)")
    .call(d3.axisBottom(x).tickValues(p.xTicks).tickSize(0).tickFormat(tickFmt))
    .call(function(s) { s.select(".domain").remove(); s.selectAll("text").style("font-size", "21px").attr("y", 0).attr("dy", "0.72em"); });
  svg.append("g").attr("transform", "translate(" + (p.left - 5.5) + ",0)")
    .call(d3.axisLeft(y).tickValues(p.yTicks).tickSize(0).tickFormat(tickFmt))
    .call(function(s) { s.select(".domain").remove(); s.selectAll("text").style("font-size", "21px").attr("x", 0); });

  label(p.titleX, 1440, "All paired ROIs", 24);
  label(p.titleX - 1, 1793, p.xName, 24.5);
  label(p.yNameX, 1600, p.yName, 24.5, {rotate: -90});
}

label(0, 1411, "d", 43, {anchor: "start", bold: true});
label(425, 1411, "e", 43, {anchor: "start", bold: true});

scatter({left: 96, xRange: [109, 358.7], yRange: [1733.3, 1484], xMaxTick: 0.8, yMaxTick: 0.8, xTicks: scatterTicksD, yTicks: scatterTicksD,
  r: "R = 0.10", titleX: 242, xName: "DSI (Awake)", yName: "DSI (Iso.)", yNameX: 50,
  groups: [{name:"olive",values:dOlive},{name:"orange",values:dOrange},{name:"green",values:dGreen},{name:"cyan",values:dCyan},{name:"blue",values:dBlue},{name:"purple",values:dPurple},{name:"pink",values:dPink}]});
scatter({left: 519.7, xRange: [532.7, 760.3], yRange: [1733.3, 1506.3], xMaxTick: 0.6, yMaxTick: 0.6, xTicks: scatterTicksE, yTicks: scatterTicksE,
  r: "R = 0.15", titleX: 666, xName: "OSI (Awake)", yName: "OSI (Iso.)", yNameX: 473.7,
  groups: [{name:"olive",values:eOlive},{name:"orange",values:eOrange},{name:"green",values:eGreen},{name:"cyan",values:eCyan},{name:"blue",values:eBlue},{name:"purple",values:ePurple},{name:"pink",values:ePink}]});

</script>
